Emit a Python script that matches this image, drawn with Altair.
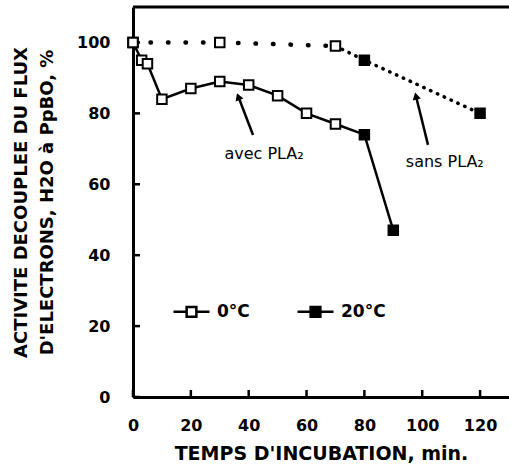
import math
import altair as alt
import pandas as pd

# ---------------- data ----------------
avec_x = [0, 3, 5, 10, 20, 30, 40, 50, 60, 70, 80, 90]
avec_y = [100, 95, 94, 84, 87, 89, 88, 85, 80, 77, 74, 47]
avec_temp = ["0°C"] * 10 + ["20°C"] * 2

sans_x = [0, 30, 70, 80, 120]
sans_y = [100, 100, 99, 95, 80]
sans_temp = ["0°C", "0°C", "0°C", "20°C", "20°C"]

temps = ["0°C", "20°C"]
x_ticks = [0, 20, 40, 60, 80, 100, 120]
y_ticks = [0, 20, 40, 60, 80, 100]

note_text = ["avec PLA₂", "sans PLA₂"]
note_x = [45.3, 107.8]
note_y = [68.5, 66.3]
arrow_tail_x = [41.5, 102.0]
arrow_tail_y = [73.9, 71.1]
arrow_tip_x = [35.9, 97.5]
arrow_tip_y = [85.8, 86.0]

# ---------------- layout ----------------
W, H = 376, 390
X_MAX, Y_MAX = 130, 110
SX, SY = W / X_MAX, H / Y_MAX
FONT = "DejaVu Sans"

xs = alt.Scale(domain=[0, X_MAX], nice=False, zero=False)
ys = alt.Scale(domain=[0, Y_MAX], nice=False, zero=False)

x_axis = alt.Axis(
    values=x_ticks, title="TEMPS D'INCUBATION, min.", ticks=False, tickSize=0,
    grid=False, domainWidth=3, domainColor="black",
    labelFont=FONT, labelFontWeight="bold", labelFontSize=16, labelColor="black",
    labelPadding=20, labelFlush=False, labelOverlap=False,
    titleFont=FONT, titleFontSize=19, titleFontWeight="bold", titleColor="black",
    titleY=47, titleBaseline="top",
)
y_axis = alt.Axis(
    values=y_ticks, title=["ACTIVITE DECOUPLEE DU FLUX", "D'ELECTRONS, H2O à PpBO, %"],
    ticks=False, tickSize=0, grid=False, domainWidth=3, domainColor="black",
    labelFont=FONT, labelFontWeight="bold", labelFontSize=16, labelColor="black",
    labelPadding=23, labelFlush=False, labelOverlap=False,
    titleFont=FONT, titleFontSize=18, titleFontWeight="bold", titleColor="black",
    titleAngle=270, titleX=-112, titleY=H / 2, titleAlign="center",
    titleBaseline="middle", titleLineHeight=26,
)


def X(f="x"):
    return alt.X(f, type="quantitative", scale=xs, axis=x_axis)


def Y(f="y"):
    return alt.Y(f, type="quantitative", scale=ys, axis=y_axis)


avec_df = pd.DataFrame({"x": avec_x, "y": avec_y, "temp": avec_temp})
sans_df = pd.DataFrame({"x": sans_x, "y": sans_y, "temp": sans_temp})
pts_df = pd.concat([avec_df, sans_df], ignore_index=True)

# arrows: head placed slightly back from the tip
rows = []
for i in range(len(note_text)):
    dx = (arrow_tip_x[i] - arrow_tail_x[i]) * SX
    dy = -(arrow_tip_y[i] - arrow_tail_y[i]) * SY
    ln = math.hypot(dx, dy)
    ux, uy = dx / ln, dy / ln
    back = 4.0
    hx = arrow_tip_x[i] - ux * back / SX
    hy = arrow_tip_y[i] + uy * back / SY
    ang = math.degrees(math.atan2(dx, -dy)) % 360
    rows.append({"x": arrow_tail_x[i], "y": arrow_tail_y[i], "x2": hx, "y2": hy, "angle": ang})
arrow_df = pd.DataFrame(rows)
note_df = pd.DataFrame({"x": note_x, "y": note_y, "t": note_text})

solid = alt.Chart(avec_df).mark_line(color="black", strokeWidth=2.5).encode(x=X(), y=Y())
dotA = alt.Chart(sans_df.iloc[:3]).mark_line(
    color="black", strokeWidth=4.5, strokeCap="round", strokeDash=[0.5, 17]
).encode(x=X(), y=Y())
dotB = alt.Chart(sans_df.iloc[2:]).mark_line(
    color="black", strokeWidth=3.5, strokeCap="round", strokeDash=[0.5, 7]
).encode(x=X(), y=Y())

legend_path = "M-1,0H-0.27M0.27,0H1M-0.27,-0.27H0.27V0.27H-0.27Z"
points = alt.Chart(pts_df).mark_point(
    shape="square", filled=True, size=90, stroke="black", strokeWidth=2, opacity=1
).encode(
    x=X(), y=Y(),
    fill=alt.Fill(
        "temp:N",
        scale=alt.Scale(domain=temps, range=["white", "black"]),
        legend=alt.Legend(
            orient="none", legendX=39, legendY=285, direction="horizontal", title=None,
            symbolType=legend_path, symbolSize=1296, symbolStrokeColor="black",
            symbolStrokeWidth=2.5, labelFont=FONT, labelFontWeight="bold",
            labelFontSize=17, labelColor="black", labelOffset=6, columnPadding=42,
            padding=0,
        ),
    ),
)

arrows = alt.Chart(arrow_df).mark_rule(color="black", strokeWidth=2.5).encode(
    x=X(), y=Y(), x2="x2", y2="y2"
)
heads = alt.Chart(arrow_df).mark_point(
    shape="triangle-up", filled=True, color="black", size=70, opacity=1
).encode(x=X("x2"), y=Y("y2"), angle=alt.Angle("angle:Q", scale=None))
notes = alt.Chart(note_df).mark_text(
    font=FONT, fontSize=16, align="center", baseline="middle", color="black"
).encode(x=X(), y=Y(), text="t:N")

yt = alt.Chart(pd.DataFrame({"y": y_ticks})).mark_rule(color="black", strokeWidth=2.5).encode(
    y=Y(), x=alt.value(0), x2=alt.value(7)
)
xt = alt.Chart(pd.DataFrame({"x": x_ticks})).mark_rule(color="black", strokeWidth=2.5).encode(
    x=X(), y=alt.value(H), y2=alt.value(H - 7)
)
top = alt.Chart(pd.DataFrame({"x": [0]})).mark_rule(color="black", strokeWidth=3).encode(
    x=alt.value(0), x2=alt.value(W), y=alt.value(0)
)

chart = alt.layer(
    solid, dotA, dotB, arrows, heads, notes, yt, xt, top, points
).properties(
    width=W, height=H,
    padding={"left": 133, "top": 7, "right": 0, "bottom": 68},
    autosize=alt.AutoSizeParams(type="none"),
    background="white",
).configure_view(stroke=None)

chart.save("out.html", embed_options={"renderer": "svg", "actions": False})
